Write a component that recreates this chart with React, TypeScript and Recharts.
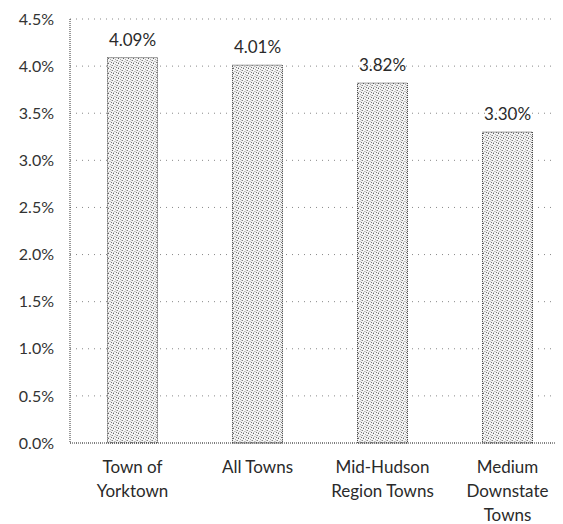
import React from "react";
import { BarChart, Bar, XAxis, YAxis, CartesianGrid, LabelList } from "recharts";

const categories = ["Town of Yorktown", "All Towns", "Mid-Hudson Region Towns", "Medium Downstate Towns"];
const tickLines = [["Town of", "Yorktown"], ["All Towns"], ["Mid-Hudson", "Region Towns"], ["Medium", "Downstate", "Towns"]];
const rates = [4.09, 4.01, 3.82, 3.3];
const yTicks = [0, 0.5, 1, 1.5, 2, 2.5, 3, 3.5, 4, 4.5];

const data = categories.map((name, i) => ({ name, rate: rates[i] }));

const FONT = "Lato, 'Open Sans', sans-serif";

const CategoryTick = (props: any) => {
  const { x, y, payload } = props;
  const idx = categories.indexOf(payload.value);
  const lines = idx >= 0 ? tickLines[idx] : [payload.value];
  return (
    <text x={x} y={y} textAnchor="middle" fill="#2a2a2a" fontSize={17} fontFamily={FONT}>
      {lines.map((ln: string, i: number) => (
        <tspan key={i} x={x} dy={i === 0 ? 0 : 24}>{ln}</tspan>
      ))}
    </text>
  );
};

export default function App() {
  return (
    <div style={{ width: 555, height: 516, overflow: "hidden", position: "relative" }}>
      <svg width={0} height={0} style={{ position: "absolute" }}>
        <defs>
          <pattern id="stipple" width="5" height="5" patternUnits="userSpaceOnUse">
            <rect width="5" height="5" fill="#f4f4f4" />
            <rect x="0" y="0" width="1" height="1" fill="#666" />
            <rect x="2" y="1" width="1" height="1" fill="#aaa" />
            <rect x="4" y="2" width="1" height="1" fill="#888" />
            <rect x="1" y="3" width="1" height="1" fill="#bbb" />
            <rect x="3" y="4" width="1" height="1" fill="#777" />
            <rect x="3" y="2" width="1" height="1" fill="#c4c4c4" />
            <rect x="0" y="4" width="1" height="1" fill="#c4c4c4" />
            <rect x="2" y="3" width="1" height="1" fill="#d0d0d0" />
          </pattern>
        </defs>
      </svg>
      <BarChart
        width={562}
        height={516}
        data={data}
        margin={{ top: 11, right: 0, bottom: 0, left: 0 }}
        barCategoryGap="30%"
      >
        <CartesianGrid vertical={false} stroke="#888" strokeDasharray="1 5" />
        <XAxis
          dataKey="name"
          height={81}
          tickLine={false}
          axisLine={{ stroke: "#333", strokeDasharray: "1 1" }}
          tick={<CategoryTick />}
          tickMargin={24}
          interval={0}
        />
        <YAxis
          width={62}
          domain={[0, 4.5]}
          ticks={yTicks}
          tickFormatter={(v: number) => v.toFixed(1) + "%"}
          tickLine={false}
          tickSize={0}
          tickMargin={16}
          axisLine={{ stroke: "#333", strokeDasharray: "1 1" }}
          tick={{ fill: "#333", fontSize: 16, fontFamily: FONT }}
        />
        <Bar dataKey="rate" fill="url(#stipple)" stroke="#444" strokeDasharray="1 1" isAnimationActive={false}>
          <LabelList
            dataKey="rate"
            position="top"
            offset={12}
            formatter={(v: any) => Number(v).toFixed(2) + "%"}
            fill="#2a2a2a"
            fontSize={17}
            fontFamily={FONT}
          />
        </Bar>
      </BarChart>
    </div>
  );
}
